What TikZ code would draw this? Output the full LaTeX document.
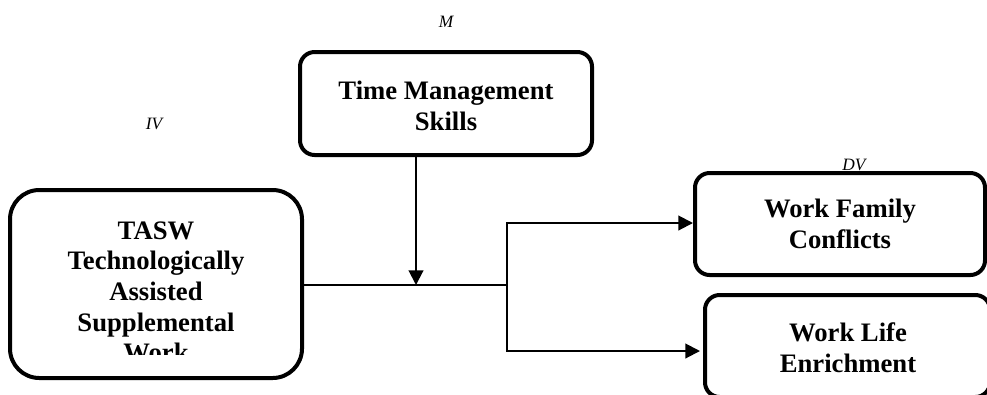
\documentclass[tikz,border=0pt]{standalone}
\usepackage{fontspec}
\setmainfont{Liberation Serif}
\usetikzlibrary{arrows.meta}
\tikzset{
  box/.style={draw, line width=3pt, rounded corners=#1, inner sep=0pt},
  box/.default=11pt,
  btext/.style={font=\fontsize{20}{23.5}\selectfont\bfseries, align=center, inner sep=0pt},
  lbl/.style={font=\fontsize{13}{15}\selectfont\itshape, inner sep=0pt},
  conn/.style={line width=1.5pt},
  arr/.style={conn, -{Triangle[length=11pt,width=11pt]}}
}
\begin{document}
\begin{tikzpicture}[x=0.75pt,y=-0.75pt]
\useasboundingbox (0,0) rectangle (987,394);
% boxes
\node[box, minimum width=292*0.75pt, minimum height=103*0.75pt] (tm) at (446,103.5) {};
\node[box=22pt, minimum width=292*0.75pt, minimum height=188*0.75pt] (tasw) at (156,284) {};
\node[box, minimum width=290*0.75pt, minimum height=102*0.75pt] (wf) at (840,224) {};
\node[box, minimum width=285*0.75pt, minimum height=102*0.75pt] (wl) at (847.5,346) {};
% texts
\node[btext] (tmt) at (446,106) {Time Management\\Skills};
\node[btext] (wft) at (840,224) {Work Family\\Conflicts};
\node[btext] (wlt) at (848,348) {Work Life\\Enrichment};
\begin{scope}
\clip (14,194) rectangle (298,354);
\node[btext, font=\fontsize{20}{23}\selectfont\bfseries] (taswt) at (156,292) {TASW\\Technologically\\Assisted\\Supplemental\\Work};
\end{scope}
% labels
\node[lbl] (lm) at (446,22) {M};
\node[lbl] (liv) at (154,124) {IV};
\node[lbl] (ldv) at (854,165) {DV};
% connectors
\coordinate (j) at (507,285);
\coordinate (m) at (416,285);
\coordinate (wfa) at (693,223);
\coordinate (wla) at (700,351);
\draw[conn] (tasw.east |- j) -- (j);
\draw[arr] (tm.south -| m) -- (m);
\draw[arr] (j) |- (wfa);
\draw[arr] (j) |- (wla);
\end{tikzpicture}
\end{document}
